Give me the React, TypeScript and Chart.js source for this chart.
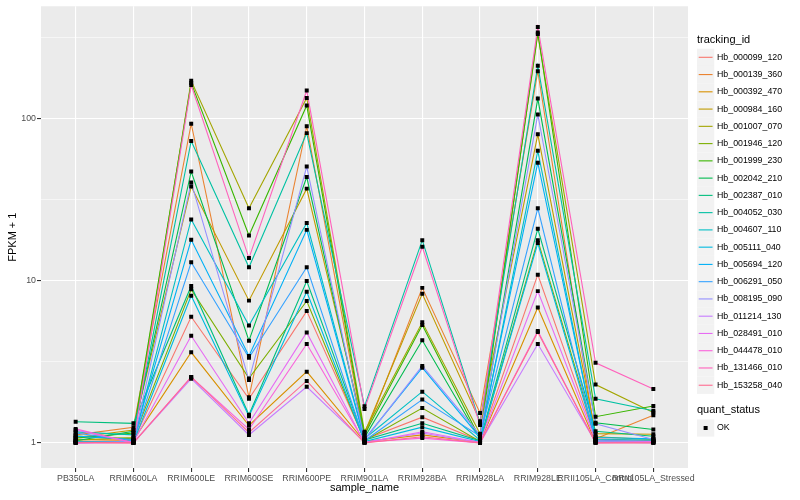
import { useEffect, useRef } from 'react';
import { Chart, registerables } from 'chart.js';

Chart.register(...registerables);

const categories = ['PB350LA', 'RRIM600LA', 'RRIM600LE', 'RRIM600SE', 'RRIM600PE', 'RRIM901LA', 'RRIM928BA', 'RRIM928LA', 'RRIM928LE', 'RRII105LA_Control', 'RRII105LA_Stressed'];

const seriesNames = ['Hb_000099_120', 'Hb_000139_360', 'Hb_000392_470', 'Hb_000984_160', 'Hb_001007_070', 'Hb_001946_120', 'Hb_001999_230', 'Hb_002042_210', 'Hb_002387_010', 'Hb_004052_030', 'Hb_004607_110', 'Hb_005111_040', 'Hb_005694_120', 'Hb_006291_050', 'Hb_008195_090', 'Hb_011214_130', 'Hb_028491_010', 'Hb_044478_010', 'Hb_131466_010', 'Hb_153258_040'];

const hb000099_120 = [1.02, 1.03, 6.0, 1.87, 6.5, 1.05, 1.44, 1.03, 10.9, 1.06, 1.03];
const hb000139_360 = [1.12, 1.25, 93, 1.91, 89.8, 1.1, 9.04, 1.53, 196, 1.06, 1.48];
const hb000392_470 = [1.05, 1.04, 3.62, 1.28, 2.75, 1.02, 1.12, 1.01, 6.84, 1.01, 1.02];
const hb000984_160 = [1.08, 1.2, 38.1, 7.54, 37.0, 1.15, 8.31, 1.36, 80, 1.14, 1.13];
const hb001007_070 = [1.04, 1.08, 171, 28, 134, 1.17, 5.54, 1.14, 332, 2.29, 1.54];
const hb001946_120 = [1.1, 1.06, 8.85, 2.5, 7.5, 1.03, 1.64, 1.02, 17.8, 1.09, 1.05];
const hb001999_230 = [1.07, 1.15, 166, 19.0, 120.5, 1.12, 5.34, 1.06, 340, 1.45, 1.69];
const hb002042_210 = [1.03, 1.18, 47.2, 4.27, 43.6, 1.08, 4.29, 1.05, 133, 1.33, 1.21];
const hb002387_010 = [1.35, 1.32, 9.29, 1.49, 9.97, 1.04, 1.32, 1.03, 20.9, 1.18, 1.1];
const hb004052_030 = [1.17, 1.12, 72.8, 12.1, 81.4, 1.68, 17.8, 1.32, 212, 1.87, 1.58];
const hb004607_110 = [1.01, 1.02, 23.9, 5.29, 22.7, 1.06, 2.07, 1.04, 63.3, 1.05, 1.04];
const hb005111_040 = [1.02, 1.01, 8.09, 1.46, 8.55, 1.02, 1.25, 1.02, 17.1, 1.04, 1.02];
const hb005694_120 = [1.1, 1.05, 17.9, 3.43, 20.6, 1.05, 2.91, 1.08, 53.5, 1.08, 1.06];
const hb006291_050 = [1.15, 1.03, 13.0, 3.35, 12.1, 1.03, 1.85, 1.1, 28, 1.02, 1.01];
const hb008195_090 = [1.0, 1.02, 40.4, 2.44, 50.6, 1.04, 2.98, 1.12, 106, 1.31, 1.05];
const hb011214_130 = [1.2, 1.0, 2.49, 1.12, 2.22, 1.01, 1.15, 1.0, 4.07, 1.01, 1.0];
const hb028491_010 = [1.0, 1.01, 4.58, 1.32, 4.8, 1.0, 1.17, 1.01, 8.63, 1.03, 1.02];
const hb044478_010 = [1.22, 1.0, 2.55, 1.21, 4.07, 1.01, 1.07, 1.0, 4.9, 1.0, 1.01];
const hb131466_010 = [1.0, 1.0, 161, 13.8, 149, 1.62, 16.2, 1.29, 367, 3.12, 2.15];
const hb153258_040 = [1.01, 1.0, 2.55, 1.16, 2.41, 1.0, 1.09, 1.0, 4.82, 1.0, 1.0];

const seriesValues = [hb000099_120, hb000139_360, hb000392_470, hb000984_160, hb001007_070, hb001946_120, hb001999_230, hb002042_210, hb002387_010, hb004052_030, hb004607_110, hb005111_040, hb005694_120, hb006291_050, hb008195_090, hb011214_130, hb028491_010, hb044478_010, hb131466_010, hb153258_040];

const seriesColors = ['#F8766D', '#EA8331', '#D89000', '#C09B00', '#A3A500', '#7CAE00', '#39B600', '#00BB4E', '#00BF7D', '#00C1A3', '#00BFC4', '#00BAE0', '#00B0F6', '#35A2FF', '#9590FF', '#C77CFF', '#E76BF3', '#FA62DB', '#FF62BC', '#FF6C91'];

const yTicks = [1, 3.1623, 10, 31.623, 100, 316.23];
const yMajor = [1, 10, 100];
const statusLevels = ['OK'];

const FONT = "'Liberation Sans', Arial, Helvetica, sans-serif";

const decorPlugin = {
  id: 'decor',
  beforeDraw(chart: any) {
    const { ctx, chartArea } = chart;
    ctx.save();
    ctx.fillStyle = '#FFFFFF';
    ctx.fillRect(0, 0, chart.width, chart.height);
    ctx.fillStyle = '#EBEBEB';
    ctx.fillRect(chartArea.left, chartArea.top, chartArea.right - chartArea.left, chartArea.bottom - chartArea.top);
    ctx.restore();
  },
  afterDraw(chart: any) {
    const { ctx, chartArea } = chart;
    ctx.save();
    ctx.fillStyle = '#000';
    ctx.font = `11px ${FONT}`;
    ctx.textBaseline = 'middle';
    ctx.textAlign = 'center';
    ctx.fillText('sample_name', (chartArea.left + chartArea.right) / 2, 488);
    ctx.save();
    ctx.translate(13, (chartArea.top + chartArea.bottom) / 2);
    ctx.rotate(-Math.PI / 2);
    ctx.fillText('FPKM + 1', 0, 0);
    ctx.restore();

    // legend: tracking_id
    const lx = 697;
    const key = 17.26;
    ctx.textAlign = 'left';
    ctx.fillText('tracking_id', lx, 40);
    const y0 = 57.3;
    seriesNames.forEach((name, i) => {
      const cy = y0 + i * key;
      ctx.fillStyle = '#F2F2F2';
      ctx.fillRect(lx, cy - key / 2, key, key);
      ctx.strokeStyle = seriesColors[i];
      ctx.lineWidth = 1.1;
      ctx.beginPath();
      ctx.moveTo(lx + 1.7, cy);
      ctx.lineTo(lx + key - 1.7, cy);
      ctx.stroke();
      ctx.fillStyle = '#000';
      ctx.font = `8.8px ${FONT}`;
      ctx.fillText(name, lx + 20, cy);
    });

    // legend: quant_status
    ctx.font = `11px ${FONT}`;
    ctx.fillStyle = '#000';
    ctx.fillText('quant_status', lx, 410);
    statusLevels.forEach((lvl, i) => {
      const cy = 428 + i * key;
      ctx.fillStyle = '#F2F2F2';
      ctx.fillRect(lx, cy - key / 2, key, key);
      ctx.fillStyle = '#000';
      ctx.fillRect(lx + key / 2 - 2, cy - 2, 4, 4);
      ctx.font = `8.8px ${FONT}`;
      ctx.fillText(lvl, lx + 20, cy);
    });
    ctx.restore();
  },
};

export default function App() {
  const ref = useRef<HTMLCanvasElement>(null);
  useEffect(() => {
    const n = seriesValues.length;
    const lineSets = seriesValues.map((vals, i) => ({
      type: 'line' as const,
      label: seriesNames[i],
      data: vals.map((v, j) => ({ x: j, y: v })),
      borderColor: seriesColors[i],
      backgroundColor: seriesColors[i],
      borderWidth: 1.1,
      pointRadius: 0,
      tension: 0,
      fill: false,
      order: n - i + 1,
    }));
    const pointSet = {
      type: 'scatter' as const,
      label: 'quant_status',
      data: seriesValues.flatMap((vals) => vals.map((v, j) => ({ x: j, y: v }))),
      pointStyle: 'rect',
      pointRadius: 2.8,
      pointBackgroundColor: '#000',
      pointBorderColor: '#000',
      pointBorderWidth: 0,
      showLine: false,
      order: 0,
    };
    const chart = new Chart(ref.current as HTMLCanvasElement, {
      type: 'line',
      data: { datasets: [...lineSets, pointSet] as any },
      options: {
        responsive: false,
        animation: false,
        devicePixelRatio: 1,
        layout: { padding: { left: 0, top: 5, right: 112, bottom: 0 } },
        plugins: { legend: { display: false }, tooltip: { enabled: false }, title: { display: false } },
        scales: {
          x: {
            type: 'linear',
            min: -0.6,
            max: categories.length - 1 + 0.6,
            afterBuildTicks: (s: any) => {
              s.ticks = categories.map((_, i) => ({ value: i }));
            },
            afterFit: (s: any) => {
              s.height = 32;
            },
            ticks: {
              autoSkip: false,
              maxRotation: 0,
              minRotation: 0,
              padding: 1,
              color: '#4D4D4D',
              font: { family: FONT, size: 8.8 },
              callback: (v: any) => categories[Number(v)] ?? '',
            },
            grid: { color: '#FFFFFF', lineWidth: 1.1, tickLength: 4, tickColor: '#333333', drawOnChartArea: true },
            border: { display: false },
          },
          y: {
            type: 'logarithmic',
            min: 0.745,
            max: 493,
            afterBuildTicks: (s: any) => {
              s.ticks = yTicks.map((v) => ({ value: v }));
            },
            afterFit: (s: any) => {
              s.width = 41;
            },
            ticks: {
              padding: 1,
              color: '#4D4D4D',
              font: { family: FONT, size: 8.8 },
              callback: (v: any) => (yMajor.includes(Number(v)) ? String(v) : ''),
            },
            grid: {
              color: '#FFFFFF',
              lineWidth: (c: any) => (yMajor.includes(c.tick?.value) ? 1.1 : 0.55),
              tickLength: 4,
              tickColor: (c: any) => (yMajor.includes(c.tick?.value) ? '#333333' : 'rgba(0,0,0,0)'),
            },
            border: { display: false },
          },
        },
      },
      plugins: [decorPlugin],
    });
    return () => chart.destroy();
  }, []);
  return (
    <div style={{ position: 'fixed', left: 0, top: 0, width: 800, height: 500 }}>
      <canvas ref={ref} width={800} height={500} style={{ width: 800, height: 500 }} />
    </div>
  );
}
